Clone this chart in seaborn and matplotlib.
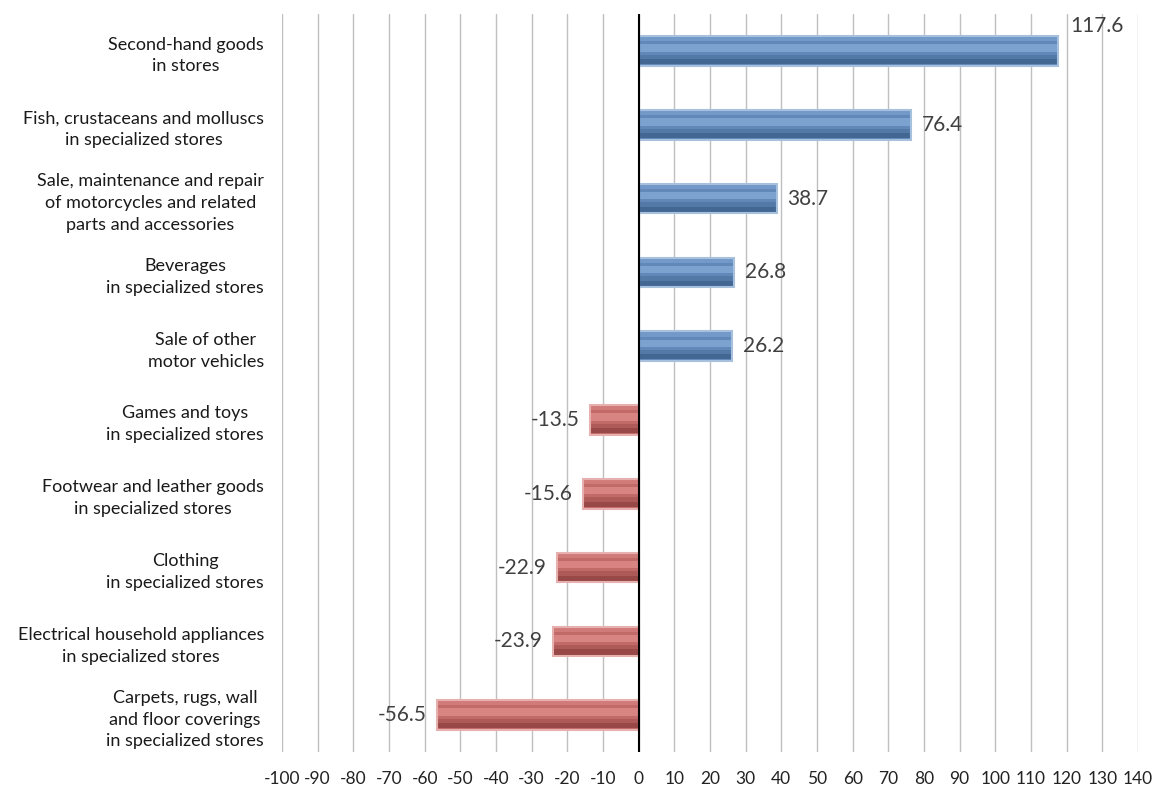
import matplotlib
matplotlib.use("Agg")
import matplotlib.pyplot as plt
import seaborn as sns
import pandas as pd
import numpy as np

categories = [
    "Second-hand goods\nin stores",
    "Fish, crustaceans and molluscs\nin specialized stores",
    "Sale, maintenance and repair\nof motorcycles and related\nparts and accessories",
    "Beverages\nin specialized stores",
    "Sale of other\nmotor vehicles",
    "Games and toys\nin specialized stores",
    "Footwear and leather goods\nin specialized stores",
    "Clothing\nin specialized stores",
    "Electrical household appliances\nin specialized stores",
    "Carpets, rugs, wall\nand floor coverings\nin specialized stores",
]
values = [117.6, 76.4, 38.7, 26.8, 26.2, -13.5, -15.6, -22.9, -23.9, -56.5]
xticks = list(range(-100, 150, 10))

df = pd.DataFrame({"cat": categories, "val": values})
df["sign"] = np.where(df["val"] >= 0, "pos", "neg")

sns.set_theme(style="white")
plt.rcParams["font.family"] = ["Lato", "DejaVu Sans"]

fig = plt.figure(figsize=(11.58, 7.87), dpi=100)
ax = fig.add_axes([0.2435, 0.0445, 0.7392, 0.9375])

palette = {"pos": "#5287C6", "neg": "#D05C59"}
sns.barplot(data=df, y="cat", x="val", hue="sign", palette=palette, dodge=False,
            orient="h", width=0.4, legend=False, ax=ax,
            linewidth=0, zorder=3)

# bevel-like shading layers
y = np.arange(len(values))
pos = [v >= 0 for v in values]
light = ["#9DC3EE" if p else "#F5A5A2" for p in pos]
dark = ["#2C4D75" if p else "#772C2A" for p in pos]
edge = ["#A7C0DE" if p else "#E6B0AE" for p in pos]
ax.barh(y + 0.145, values, height=0.07, color=dark, alpha=0.55, zorder=4, linewidth=0)
ax.barh(y + 0.08, values, height=0.06, color=dark, alpha=0.25, zorder=4, linewidth=0)
ax.barh(y - 0.04, values, height=0.1, color=light, alpha=0.45, zorder=4, linewidth=0)
ax.barh(y - 0.16, values, height=0.06, color=light, alpha=0.3, zorder=4, linewidth=0)
ax.barh(y, values, height=0.4, color="none", edgecolor=edge, linewidth=1.5, zorder=5)

ax.set_xlim(-100, 140)
ax.set_ylim(len(values) - 0.5, -0.5)
ax.set_xticks(xticks)
ax.set_xticklabels([str(t) for t in xticks], fontsize=12.5, color="#222222")
ax.tick_params(axis="x", length=0, pad=14)
ax.tick_params(axis="y", length=0, pad=13)
for t in ax.get_yticklabels():
    t.set_multialignment("center")
    t.set_fontsize(13)
    t.set_linespacing(1.45)
    t.set_color("#1a1a1a")
ax.set_xlabel("")
ax.set_ylabel("")
ax.grid(axis="x", color="#BFBFBF", linewidth=1, zorder=0)
ax.set_axisbelow(True)
for s in ax.spines.values():
    s.set_visible(False)
ax.axvline(0, color="black", linewidth=1.5, zorder=6)

for i, v in enumerate(values):
    if i == 0:
        ax.text(v + 3.5, i - 0.34, f"{v:.1f}", ha="left", va="center", fontsize=15, color="#404040")
    elif v >= 0:
        ax.text(v + 3, i, f"{v:.1f}", ha="left", va="center", fontsize=15, color="#404040")
    else:
        ax.text(v - 3, i, f"{v:.1f}", ha="right", va="center", fontsize=15, color="#404040")

fig.savefig("out.png", dpi=100)
